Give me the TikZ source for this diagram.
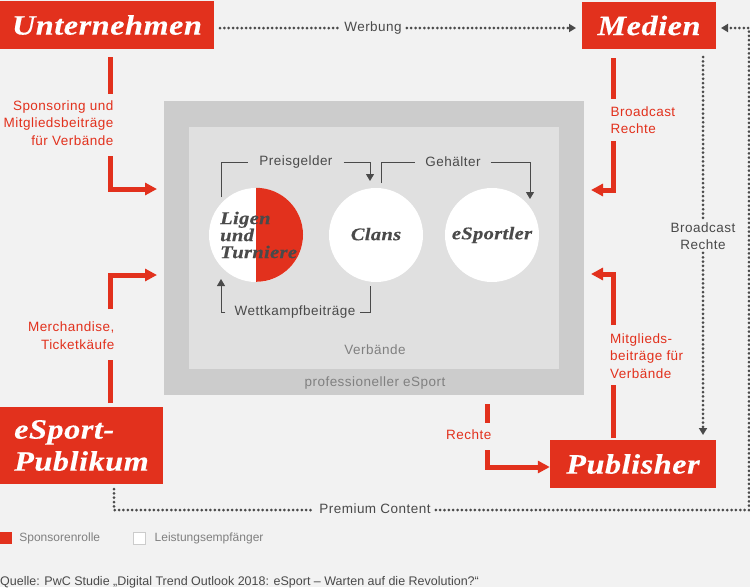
\documentclass[tikz,border=0pt]{standalone}
\usepackage{fontspec}
\setmainfont{Liberation Sans}
\newfontfamily\headfont[LetterSpace=2,FakeStretch=1.15,FakeBold=0.35]{Liberation Serif}
\newfontfamily\labelfont[LetterSpace=3.5]{Liberation Sans}
\usetikzlibrary{arrows.meta,positioning}
\definecolor{bgcol}{HTML}{F2F2F2}
\definecolor{redcol}{HTML}{E2311D}
\definecolor{outercol}{HTML}{CCCCCC}
\definecolor{innercol}{HTML}{E0E0E0}
\definecolor{darkcol}{HTML}{4A4A4A}
\definecolor{midcol}{HTML}{808080}
\tikzset{
	playerbox/.style={fill=redcol, text=white, inner sep=0pt, font=\headfont\fontsize{28}{32}\selectfont\bfseries\itshape},
	ringnode/.style={circle, fill=white, minimum size=94pt, inner sep=0pt, text=darkcol, font=\headfont\fontsize{17.8}{17}\selectfont\bfseries\itshape},
	redlabel/.style={text=redcol, font=\labelfont\fontsize{13.5}{17.5}\selectfont, inner xsep=0pt},
	darklabel/.style={text=darkcol, font=\labelfont\fontsize{13.5}{17.5}\selectfont, inner sep=0pt},
	greylabel/.style={text=midcol, font=\labelfont\fontsize{13.5}{17.5}\selectfont, inner sep=0pt},
	redbar/.style={draw=redcol, line width=5pt},
	redarrow/.style={redbar, -{Triangle[length=12pt,width=12pt]}},
	dotline/.style={draw=darkcol, line width=3pt, line cap=round, dash pattern=on 0pt off 4.35pt},
	dotarrow/.style={dotline, -{Triangle[length=7pt,width=8pt,fill=darkcol,sep=1pt]}},
	thinline/.style={draw=darkcol, line width=1pt},
	thinarrow/.style={thinline, -{Triangle[length=7pt,width=8pt,sep=2pt]}},
}
\begin{document}
\begin{tikzpicture}[x=1pt, y=-1pt]
	\useasboundingbox (0,0) rectangle (750,587);
	\fill[bgcol] (0,0) rectangle (750,587);

	\fill[outercol] (164,101) rectangle (584,395);
	\fill[innercol] (189,127) rectangle (559,369);

	\node (unternehmen) [playerbox, minimum width=214pt, minimum height=48pt] at (107,25)	{Unternehmen};
	\node (medien) 			[playerbox, minimum width=134pt, minimum height=47pt] at (649,25.5)	{Medien};
	\node (publisher) 	[playerbox, minimum width=166pt, minimum height=48pt] at (633,464)	{Publisher};
	\node (publikum) 		[playerbox, minimum width=163pt, minimum height=77pt, align=left] at (81.5,445.5)	{eSport-\\Publikum};

	\node (ligen) 		[ringnode] at (256,235) {};
	\fill[redcol] (ligen.north) arc (-90:90:47) -- cycle;
	\node (ligentext) [text=darkcol, font=\headfont\fontsize{17.8}{17}\selectfont\bfseries\itshape, align=left, inner sep=0pt, anchor=west] at (220,235) {Ligen\\und\\Turniere};
	\node (clans) 		[ringnode] at (376,235) {\raisebox{2pt}{Clans}};
	\node (esportler) [ringnode] at (492,235) {eSportler};

	\node (verbaende) [greylabel] at (375,350) {Verbände};
	\node (profi) 		[greylabel] at (375,383.5) {professioneller eSport};

	\node (preis) [darklabel, inner xsep=11pt] at (296,162) {Preisgelder};
	\node (gehalt) [darklabel, inner xsep=10pt] at (453,162) {Gehälter};
	\node (wett) [darklabel, inner xsep=4pt] at (295,312) {Wettkampfbeiträge};
	\draw[thinline] (221,197) |- (preis.west);
	\draw[thinarrow] (preis.east) -| (370,183);
	\draw[thinline] (381,183) |- (gehalt.west);
	\draw[thinarrow] (gehalt.east) -| (530,201);
	\draw[thinline] (370,286) |- (wett.east);
	\draw[thinarrow, shorten <=5pt] (wett.west) -| (221,277);

	\node (sponsor) [redlabel, align=right, anchor=east] at (113.5,123) {Sponsoring und\\Mitgliedsbeiträge\\für Verbände};
	\node (merch) [redlabel, align=right, anchor=east] at (114.5,335.5) {Merchandise,\\Ticketkäufe};
	\node (bcrot) [redlabel, align=left, anchor=west] at (610.5,120) {Broadcast\\Rechte};
	\node (mitglied) [redlabel, align=left, anchor=west] at (610,356) {Mitglieds-\\beiträge für\\Verbände};
	\node (rechte) [redlabel, anchor=east] at (491.5,434.5) {Rechte};

	\coordinate (u1) at (110.5,57);
	\coordinate (u2) at (157,189);
	\draw[redbar] (u1) -- (u1 |- 0,94);
	\draw[redarrow] (u1 |- 0,156) |- (u2);

	\coordinate (m1) at (613,58);
	\coordinate (m2) at (591,190);
	\draw[redbar] (m1) -- (m1 |- 0,99);
	\draw[redarrow] (m1 |- 0,141) |- (m2);

	\coordinate (k1) at (110.5,403);
	\coordinate (k2) at (157,275);
	\draw[redbar] (k1) -- (k1 |- 0,360);
	\draw[redarrow] (k1 |- 0,309) |- (k2);

	\coordinate (p1) at (613,438);
	\coordinate (p2) at (591,274);
	\draw[redbar] (p1) -- (p1 |- 0,385);
	\draw[redarrow] (p1 |- 0,325) |- (p2);

	\coordinate (r1) at (487.5,404);
	\draw[redbar] (r1) -- (r1 |- 0,423);
	\draw[redarrow] (r1 |- 0,450) |- (publisher.west |- 0,467);

	\node (werbung) [darklabel, inner xsep=5pt] at (373,28) {Werbung};
	\draw[dotline] (220,28) -- (werbung.west);
	\draw[dotarrow] (werbung.east) -- (577,28);

	\node (bcgrau) [darklabel, align=center, fill=bgcol, inner ysep=3pt] at (703,236) {Broadcast\\Rechte};
	\draw[dotline] (703,57) -- (bcgrau.north);
	\draw[dotarrow] (bcgrau.south) -- (703,436);

	\node (premium) [darklabel, inner xsep=5pt] at (375,509) {Premium Content};
	\coordinate (e1) at (114,489);
	\coordinate (e2) at (749,510);
	\draw[dotline] (e1) |- (premium.west |- e2);
	\draw[dotarrow] (premium.east |- e2) -| (749,28) -- (720,28);

	\node (legrot) [fill=redcol, minimum size=12pt, inner sep=0pt] at (6,538) {};
	\node (legrottext) [text=midcol, font=\fontsize{12}{14}\selectfont, inner sep=0pt, right=7pt of legrot] {Sponsorenrolle};
	\node (legweiss) [draw=outercol, line width=1pt, fill=white, minimum size=12pt, inner sep=0pt] at (139,538) {};
	\node (legweisstext) [text=midcol, font=\fontsize{12}{14}\selectfont, inner sep=0pt, right=9pt of legweiss] {Leistungsempfänger};
	\node (quelle) [text=darkcol, font=\fontsize{12.5}{14}\selectfont, inner sep=0pt, anchor=base west] at (0,585) {Quelle: PwC Studie „Digital Trend Outlook 2018: eSport – Warten auf die Revolution?“};
\end{tikzpicture}
\end{document}
